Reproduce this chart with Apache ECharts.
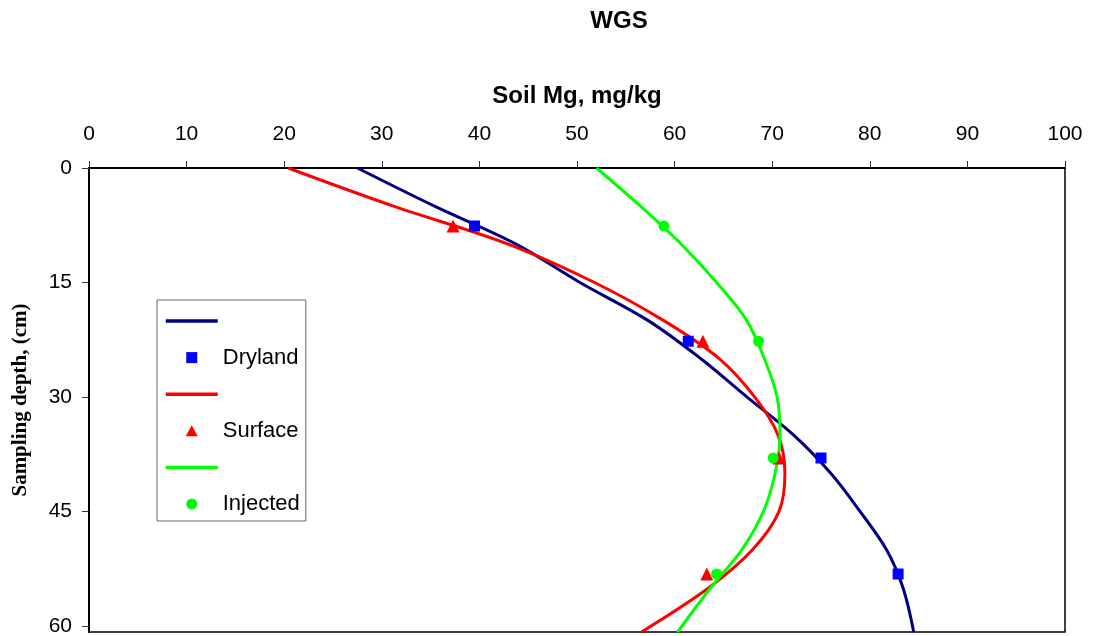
<!DOCTYPE html>
<html>
<head>
<meta charset="utf-8">
<title>WGS</title>
<script src="https://cdn.jsdelivr.net/npm/echarts@6/dist/echarts.min.js"></script>
<style>
  html, body { margin: 0; padding: 0; background: #fff; }
  #chart { width: 1094px; height: 636px; }
</style>
</head>
<body>
<div id="chart"></div>
<script>
// measured samples (depth in cm, soil Mg in mg/kg)
const sampleDepth = [7.6, 22.7, 38.0, 53.2];
const drylandObs = [39.5, 61.4, 75.0, 82.9];
const surfaceObs = [37.3, 62.9, 70.7, 63.3];
const injectedObs = [58.9, 68.6, 70.1, 64.3];

// fitted curves
const fitDepth = [0, 5, 10, 15, 20, 25, 30, 35, 40, 45, 50, 55, 60.8];
const drylandFit = [27.5, 35.4, 43.8, 50.3, 57.3, 62.7, 67.4, 72.2, 76.0, 79.0, 81.7, 83.4, 84.5];
const surfaceFit = [20.4, 31.2, 43.0, 51.8, 58.9, 64.6, 68.2, 70.6, 71.3, 70.7, 68.0, 63.5, 56.6];
const injectedFit = [52.0, 56.5, 60.7, 64.3, 67.4, 69.2, 70.5, 70.8, 70.3, 69.1, 66.9, 63.7, 60.3];

const depthTicks = [0, 15, 30, 45, 60];

const sans = '"Liberation Sans", Arial, sans-serif';
const serif = '"Liberation Serif", "Times New Roman", serif';

const pair = (xs, ys) => xs.map((x, i) => [x, ys[i]]);

const chart = echarts.init(document.getElementById('chart'));

const fitLine = (name, values, color) => ({
  name: name,
  type: 'line',
  data: pair(values, fitDepth),
  smooth: 0.35,
  symbol: 'none',
  showSymbol: false,
  lineStyle: { color: color, width: 3 },
  itemStyle: { color: color },
  z: 2,
});

const markers = (name, values, symbol, size, color) => ({
  name: name,
  type: 'scatter',
  data: pair(values, sampleDepth),
  symbol: symbol,
  symbolSize: size,
  itemStyle: { color: color, opacity: 1 },
  z: 3,
});

// line entries in the legend carry no text and no dot
const hiddenDot = { color: 'rgba(0,0,0,0)', borderWidth: 0 };
const thickLine = { width: 3.5 };
// path icons keep their aspect inside the wide legend slot
const squareIcon = 'path://M0 0H10V10H0Z';
const triangleIcon = 'path://M6 0L12 11H0Z';

const option = {
  backgroundColor: '#fff',
  animation: false,
  title: {
    text: 'WGS',
    left: 619,
    top: 9,
    padding: 0,
    textAlign: 'center',
    textStyle: { fontFamily: sans, fontSize: 24, fontWeight: 'bold', color: '#000' },
  },
  legend: {
    orient: 'vertical',
    left: 157,
    top: 300,
    padding: [10, 6, 6, 7],
    itemWidth: 52,
    itemHeight: 11,
    itemGap: 14.6,
    symbolKeepAspect: true,
    borderColor: '#666',
    borderWidth: 1,
    backgroundColor: '#fff',
    data: [
      { name: 'Dryland fit', itemStyle: hiddenDot, lineStyle: thickLine },
      { name: 'Dryland', icon: squareIcon },
      { name: 'Surface fit', itemStyle: hiddenDot, lineStyle: thickLine },
      { name: 'Surface', icon: triangleIcon },
      { name: 'Injected fit', itemStyle: hiddenDot, lineStyle: thickLine },
      { name: 'Injected', icon: 'circle' },
    ],
    formatter: (name) => (name.endsWith(' fit') ? ' ' : name),
    textStyle: { fontFamily: sans, fontSize: 22, lineHeight: 22, color: '#000' },
  },
  grid: {
    left: 89,
    right: 29,
    top: 168,
    bottom: 4,
    outerBoundsMode: 'none',
    containLabel: false,
    show: true,
    borderColor: '#000',
    borderWidth: 1.5,
    backgroundColor: 'transparent',
  },
  xAxis: {
    type: 'value',
    position: 'top',
    min: 0,
    max: 100,
    interval: 10,
    name: 'Soil Mg, mg/kg',
    nameLocation: 'middle',
    nameGap: 60,
    nameTextStyle: { fontFamily: sans, fontSize: 24, fontWeight: 'bold', color: '#000' },
    axisLine: { lineStyle: { color: '#000', width: 2 } },
    axisTick: { length: 7, lineStyle: { color: '#333', width: 1 } },
    axisLabel: { margin: 23, fontFamily: sans, fontSize: 21, color: '#000' },
    splitLine: { show: false },
  },
  yAxis: {
    type: 'value',
    inverse: true,
    min: 0,
    max: 60.8,
    name: 'Sampling depth, (cm)',
    nameLocation: 'middle',
    nameRotate: 90,
    nameGap: 58,
    nameTextStyle: { fontFamily: serif, fontSize: 21, fontWeight: 'bold', color: '#000' },
    axisLine: { lineStyle: { color: '#000', width: 2 } },
    axisTick: { length: 7, customValues: depthTicks, lineStyle: { color: '#333', width: 1 } },
    axisLabel: { margin: 17, customValues: depthTicks, fontFamily: sans, fontSize: 21, color: '#000' },
    splitLine: { show: false },
  },
  series: [
    fitLine('Dryland fit', drylandFit, '#000080'),
    markers('Dryland', drylandObs, 'rect', 11, '#0000ff'),
    fitLine('Surface fit', surfaceFit, '#ff0000'),
    markers('Surface', surfaceObs, 'triangle', 13, '#ff0000'),
    fitLine('Injected fit', injectedFit, '#00ff00'),
    markers('Injected', injectedObs, 'circle', 11, '#00ff00'),
  ],
};

chart.setOption(option);
</script>
</body>
</html>
